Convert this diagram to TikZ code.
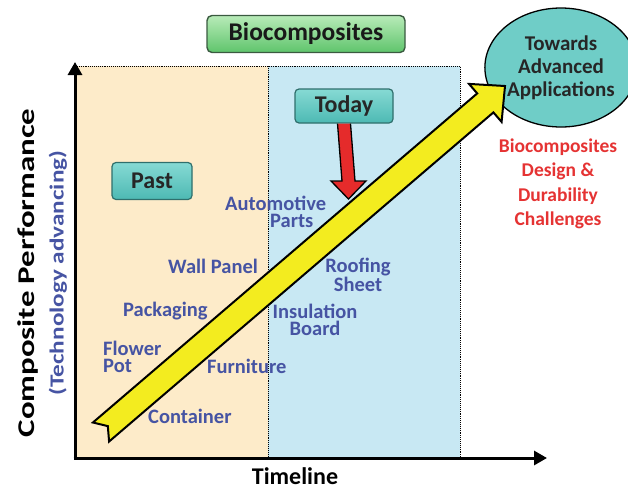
\documentclass[tikz,border=0pt]{standalone}
\usepackage{fontspec}
\setmainfont{Carlito}
\usetikzlibrary{arrows.meta,shapes.geometric,calc}
\definecolor{peach}{HTML}{FDEBC9}
\definecolor{lblue}{HTML}{C8E8F3}
\definecolor{labblue}{HTML}{4654A3}
\definecolor{redtxt}{HTML}{E53333}
\definecolor{tealtop}{HTML}{86DAD4}
\definecolor{tealbot}{HTML}{4DB9B3}
\definecolor{tealedge}{HTML}{2F6F6C}
\definecolor{circfill}{HTML}{6FCDC7}
\definecolor{greentop}{HTML}{B8EBB8}
\definecolor{greenbot}{HTML}{5FC46C}
\definecolor{greenedge}{HTML}{3A5A40}
\definecolor{yel}{HTML}{F3EC1F}
\definecolor{redarrow}{HTML}{E52B2B}
\begin{document}
\begin{tikzpicture}[x=1pt,y=-1pt,
  lab/.style={font=\fontsize{20.5}{17}\selectfont\bfseries, text=labblue, inner sep=0pt, align=left},
  labc/.style={font=\fontsize{20.5}{17}\selectfont\bfseries, text=labblue, inner sep=0pt, align=center},
  tealbox/.style={draw=tealedge, line width=1.2pt, rounded corners=4pt, top color=tealtop, bottom color=tealbot,
    font=\fontsize{24}{24}\selectfont\bfseries, text=black!85, inner sep=0pt},
  axis/.style={line width=3pt, -{Triangle[length=13pt,width=14pt]}},
  sep/.style={densely dotted, line width=0.9pt}
]
\useasboundingbox (0,0) rectangle (628,488);
% regions
\fill[peach] (75,66) rectangle (268,458);
\fill[lblue] (268,66) rectangle (460,458);
\draw[sep] (75,66) -- (460,66) -- (460,458);
\draw[sep] (268,66) -- (268,458);
% axes
\coordinate (o) at (75,458);
\coordinate (ytip) at (75,62);
\coordinate (xtip) at (547,458);
\coordinate (o2) at (73.5,458);
\draw[axis] (o) -- (ytip);
\draw[axis] (o2) -- (xtip);
% axis titles
\node[font=\fontsize{24}{24}\selectfont\bfseries, text=black, anchor=base, inner sep=0pt] (tl) at (295,484) {Timeline};
\node[font=\fontsize{24}{24}\selectfont\bfseries, text=black, rotate=90, anchor=center] (cp) at (28,273) {\scalebox{1.37}[1]{Composite Performance}};
\node[font=\fontsize{20}{20}\selectfont\bfseries, text=labblue, rotate=90, anchor=center] (ta) at (58,273) {\scalebox{1.26}[1]{(Technology advancing)}};
% header boxes
\node[draw=greenedge, line width=1.4pt, rounded corners=5pt, top color=greentop, bottom color=greenbot,
  minimum width=198pt, minimum height=37pt, inner sep=0pt,
  font=\fontsize{25.5}{25.5}\selectfont\bfseries, text=black!90] (bio) at (306,34) {Biocomposites};
\node[tealbox, minimum width=80pt, minimum height=37pt] (past) at (152,181) {Past};
\node[tealbox, minimum width=98pt, minimum height=34pt] (today) at (344,106) {Today};
% goal circle
\node[ellipse, draw=black, line width=1.3pt, fill=circfill, minimum width=132pt, minimum height=119pt,
  inner sep=0pt, font=\fontsize{21}{23}\selectfont\bfseries, text=black!85, align=center] (goal) at (561,67.5)
  {Towards\\Advanced\\Applications};
\node[font=\fontsize{19.5}{24.5}\selectfont\bfseries, text=redtxt, align=center, anchor=north] (chal) at (558,135)
  {Biocomposites\\Design \&\\Durability\\Challenges};
% product labels (base anchor = baseline of last line)
\node[lab, anchor=base west] (auto) at (225,227) {Automotive\\\hspace*{45pt}Parts};
\node[lab, anchor=base west] (wall) at (168,273) {Wall Panel};
\node[labc, anchor=base] (roof) at (358,291) {Roofing\\Sheet};
\node[lab, anchor=base west] (pack) at (123,316) {Packaging};
\node[labc, anchor=base] (ins) at (315,335) {Insulation\\Board};
\node[lab, anchor=base west] (flow) at (103,372) {Flower\\Pot};
\node[lab, anchor=base west] (furn) at (207,373) {Furniture};
\node[lab, anchor=base west] (cont) at (148,423) {Container};
% yellow progress arrow
\draw[fill=yel, line width=2pt, line join=miter]
  (92.9,422.5) -- (107.8,426.1) -- (109.1,441.5) -- (493.4,112.4) -- (501.6,121.9)
  -- (505,86) -- (469.0,83.9) -- (477.2,93.4) -- cycle;
% red "today" arrow
\coordinate (rtip) at (348.5,199);
\draw[fill=redarrow, line width=1.3pt, line join=miter]
  ($(today.south)+(-6.5,0)$) -- (342,181) -- (331,181) -- (rtip) -- (366,181) -- (355,181) -- ($(today.south)+(6.5,0)$);
\end{tikzpicture}
\end{document}
